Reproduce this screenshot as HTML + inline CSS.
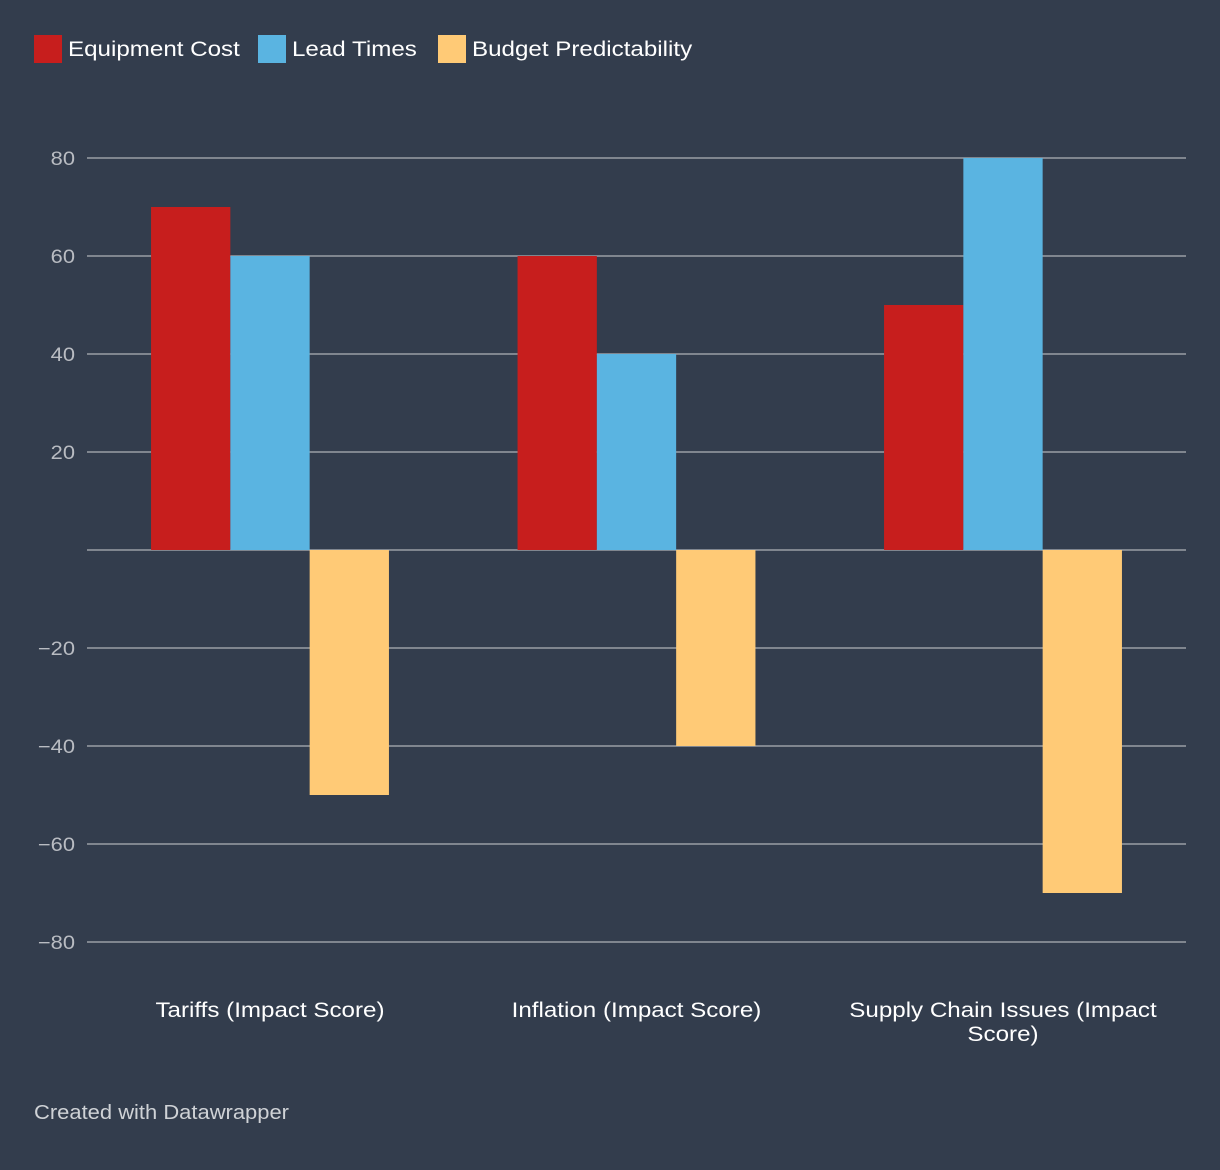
<!DOCTYPE html>
<html><head><meta charset="utf-8"><style>
html,body{margin:0;padding:0;background:#333d4d;width:1220px;height:1170px;overflow:hidden;font-family:"Liberation Sans",Arial,sans-serif}
</style></head><body>
<svg id="chart" width="1220" height="1170" xmlns="http://www.w3.org/2000/svg">
<rect width="1220" height="1170" fill="#333d4d"/>
<g id="legend"></g>
<g id="grid"></g>
<g id="bars"></g>
<g id="xlabels"></g>
<text x="34" y="1119" fill="#cfd2d6" font-size="20" textLength="255" lengthAdjust="spacingAndGlyphs">Created with Datawrapper</text>
</svg>
<script>
const categories = [["Tariffs (Impact Score)"],["Inflation (Impact Score)"],["Supply Chain Issues (Impact","Score)"]];
const seriesNames = ["Equipment Cost","Lead Times","Budget Predictability"];
const equipmentCost = [70,60,50];
const leadTimes = [60,40,80];
const budgetPredictability = [-50,-40,-70];
const yTicks = [80,60,40,20,0,-20,-40,-60,-80];
const yTickLabels = ["80","60","40","20","","\u221220","\u221240","\u221260","\u221280"];

const colors = ["#c71e1d","#5ab4e1","#ffca76"];
const NS="http://www.w3.org/2000/svg";
function y(v){return 550 - v*(392/80);}
function groupCenter(i){return 270 + i*366.5;}
const barW=79.3;
const W=1.15;
function mk(tag,attrs,parent){const e=document.createElementNS(NS,tag);for(const k in attrs)e.setAttribute(k,attrs[k]);parent.appendChild(e);return e;}
function stretch(t){const w=t.getComputedTextLength();t.setAttribute('textLength',w*W);t.setAttribute('lengthAdjust','spacingAndGlyphs');}

const grid=document.getElementById('grid');
yTicks.forEach((t,i)=>{
  const l=mk('line',{x1:87,x2:1186,y1:y(t),y2:y(t),stroke:'#9a9ea5','stroke-width':1.5},grid);
  
  
  if(yTickLabels[i]){
    const tx=mk('text',{x:75,y:y(t)+7,'text-anchor':'end',fill:'#b9bcc2','font-size':19},grid);
    tx.textContent=yTickLabels[i];
    
    
    stretch(tx);
  }
});

const series=[equipmentCost,leadTimes,budgetPredictability];
const bars=document.getElementById('bars');
series.forEach((vals,s)=>{
  vals.forEach((v,i)=>{
    const x=groupCenter(i)-1.5*barW+s*barW;
    const r=mk('rect',{x:x,y:Math.min(y(v),y(0)),width:barW,height:Math.abs(y(v)-y(0)),fill:colors[s]},bars);
    
    
  });
});

const xl=document.getElementById('xlabels');
categories.forEach((lines,i)=>{
  lines.forEach((ln,j)=>{
    const t=mk('text',{x:groupCenter(i),y:1017+j*24,'text-anchor':'middle',fill:'#ffffff','font-size':21},xl);
    t.textContent=ln;
    
    
    stretch(t);
  });
});

const lg=document.getElementById('legend');
const legX=[34,258,438];
seriesNames.forEach((n,i)=>{
  const g=mk('g',{},lg);
  
  
  mk('rect',{x:legX[i],y:35,width:28,height:28,fill:colors[i]},g);
  const t=mk('text',{x:legX[i]+34,y:56,fill:'#ffffff','font-size':21},g);
  t.textContent=n;
  stretch(t);
});
</script>
</body></html>
